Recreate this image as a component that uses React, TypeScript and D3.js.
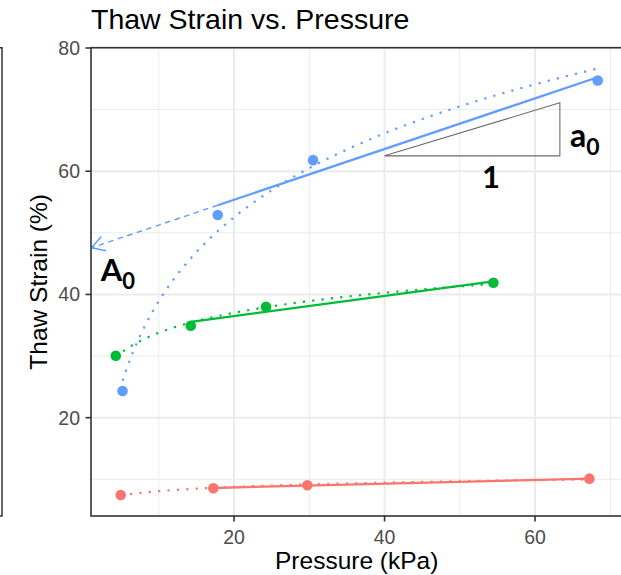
import React from 'react';
import * as d3 from 'd3';

// ---- data ----
const bluePressure = [5.18, 17.83, 30.5, 68.33];
const blueStrain = [24.33, 52.9, 61.8, 74.73];
const greenPressure = [4.28, 14.25, 24.25, 54.46];
const greenStrain = [30.06, 34.93, 38.0, 41.9];
const redPressure = [4.94, 17.25, 29.74, 67.22];
const redStrain = [7.45, 8.54, 9.03, 10.1];

const seriesNames = ['red', 'green', 'blue'];
const seriesColors = ['#F8766D', '#00BA38', '#619CFF'];

const xDomain = [0.99, 71.61];
const yDomain = [4.04, 80.05];
const xMajorTicks = [20, 40, 60];
const xMinorTicks = [10, 30, 50, 70];
const yMajorTicks = [20, 40, 60, 80];
const yMinorTicks = [10, 30, 50, 70];

// slope triangle (data coords) and arrow end
const triangleX = [40, 63.3, 63.3];
const triangleY = [62.5, 62.5, 71.1];
const arrowEndX = 1.05;
const labelA0 = { x: 2.29, y: 42.25 };
const labelOne = { x: 54.15, y: 57.3 };
const labelSmallA = { x: 64.65, y: 63.95 };

const W = 621;
const H = 575;

function linFit(xs: number[], ys: number[]) {
  const mx = d3.mean(xs) as number;
  const my = d3.mean(ys) as number;
  let sxy = 0, sxx = 0;
  xs.forEach((x, i) => { sxy += (x - mx) * (ys[i] - my); sxx += (x - mx) * (x - mx); });
  const slope = sxy / sxx;
  return { slope, intercept: my - slope * mx };
}

export default function App() {
  const x = d3.scaleLinear().domain(xDomain).range([91, 622.4]);
  const y = d3.scaleLinear().domain(yDomain).range([516, 47.7]);
  const [pl, pr] = x.range();
  const [pb, pt] = y.range();

  const series = [
    { xs: redPressure, ys: redStrain },
    { xs: greenPressure, ys: greenStrain },
    { xs: bluePressure, ys: blueStrain },
  ].map((s, i) => {
    const lf = linFit(s.xs.slice(1), s.ys.slice(1));
    const gf = linFit(s.xs.map(Math.log), s.ys);
    const x0 = d3.min(s.xs) as number, x1 = d3.max(s.xs) as number;
    const curve = d3.range(0, 101).map(k => {
      const xv = x0 + (x1 - x0) * k / 100;
      return [xv, gf.intercept + gf.slope * Math.log(xv)] as [number, number];
    });
    const lx0 = s.xs[1], lx1 = s.xs[s.xs.length - 1];
    const linePts: [number, number][] = [[lx0, lf.intercept + lf.slope * lx0], [lx1, lf.intercept + lf.slope * lx1]];
    return { ...s, name: seriesNames[i], color: seriesColors[i], lf, curve, linePts };
  });

  const line = d3.line<[number, number]>().x(d => x(d[0])).y(d => y(d[1]));

  const blue = series[2];
  const ax0 = blue.xs[1];
  const aStart: [number, number] = [x(ax0), y(blue.lf.intercept + blue.lf.slope * ax0)];
  const aEnd: [number, number] = [x(arrowEndX), y(blue.lf.intercept + blue.lf.slope * arrowEndX)];
  const ang = Math.atan2(aStart[1] - aEnd[1], aStart[0] - aEnd[0]);
  const headLen = 15;
  const head = [ang + Math.PI / 6, ang - Math.PI / 6].map(a => [aEnd[0] + headLen * Math.cos(a), aEnd[1] + headLen * Math.sin(a)]);

  const tri = triangleX.map((tx, i) => [x(tx), y(triangleY[i])] as [number, number]);

  const font = '"Liberation Sans", Arial, sans-serif';
  const boldFont = 'Lato, "DejaVu Sans", sans-serif';

  return (
    <svg width={W} height={H} style={{ position: 'absolute', left: 0, top: 0, background: '#fff' }}>
      <defs>
        <clipPath id="panel"><rect x={pl} y={pt} width={pr - pl} height={pb - pt} /></clipPath>
      </defs>
      <rect x={0} y={0} width={W} height={H} fill="#fff" />
      {/* partial neighbouring box */}
      <path d={`M-5,${pt} H2 V${pb} H-5`} fill="none" stroke="#333" strokeWidth={1.5} />

      {/* grid */}
      <g clipPath="url(#panel)">
        {xMinorTicks.map(t => <line key={'xm' + t} x1={x(t)} x2={x(t)} y1={pt} y2={pb} stroke="#EBEBEB" strokeWidth={1} />)}
        {yMinorTicks.map(t => <line key={'ym' + t} y1={y(t)} y2={y(t)} x1={pl} x2={pr} stroke="#EBEBEB" strokeWidth={1} />)}
        {xMajorTicks.map(t => <line key={'xM' + t} x1={x(t)} x2={x(t)} y1={pt} y2={pb} stroke="#EBEBEB" strokeWidth={2} />)}
        {yMajorTicks.map(t => <line key={'yM' + t} y1={y(t)} y2={y(t)} x1={pl} x2={pr} stroke="#EBEBEB" strokeWidth={2} />)}

        {series.map(s => (
          <g key={s.name}>
            <path d={line(s.curve) || ''} fill="none" stroke={s.color} strokeWidth={2.2} strokeDasharray="2.2 7.2" />
            <path d={line(s.linePts) || ''} fill="none" stroke={s.color} strokeWidth={2.3} />
            {s.xs.map((xv, i) => <circle key={i} cx={x(xv)} cy={y(s.ys[i])} r={5.3} fill={s.color} />)}
          </g>
        ))}

        {/* dashed extrapolation arrow */}
        <line x1={aStart[0]} y1={aStart[1]} x2={aEnd[0]} y2={aEnd[1]} stroke="#619CFF" strokeWidth={1.4} strokeDasharray="5.5 4.5" />
        <path d={`M${head[0][0]},${head[0][1]} L${aEnd[0]},${aEnd[1]} L${head[1][0]},${head[1][1]}`} fill="none" stroke="#619CFF" strokeWidth={1.4} />

        {/* slope triangle */}
        <path d={`M${tri[0][0]},${tri[0][1]} L${tri[1][0]},${tri[1][1]} L${tri[2][0]},${tri[2][1]} Z`} fill="none" stroke="#6b6b6b" strokeWidth={1.1} />
      </g>

      {/* annotation labels */}
      <text x={x(labelA0.x)} y={y(labelA0.y)} fontFamily={boldFont} fontWeight="bold" fontSize={31} fill="#000">
        A<tspan fontSize={22} dy={8}>0</tspan>
      </text>
      <text x={x(labelOne.x)} y={y(labelOne.y)} fontFamily={boldFont} fontWeight="bold" fontSize={31} fill="#000" textAnchor="middle">1</text>
      <text x={x(labelSmallA.x)} y={y(labelSmallA.y)} fontFamily={boldFont} fontWeight="bold" fontSize={32} fill="#000">
        a<tspan fontSize={23} dy={8}>0</tspan>
      </text>

      {/* panel border */}
      <rect x={pl} y={pt} width={pr - pl} height={pb - pt} fill="none" stroke="#333" strokeWidth={1.6} />

      {/* axes ticks */}
      {yMajorTicks.map(t => (
        <g key={'yt' + t}>
          <line x1={pl - 5.5} x2={pl} y1={y(t)} y2={y(t)} stroke="#333" strokeWidth={1.6} />
          <text x={pl - 11} y={y(t) + 7} textAnchor="end" fontFamily={font} fontSize={19.5} fill="#4D4D4D">{t}</text>
        </g>
      ))}
      {xMajorTicks.map(t => (
        <g key={'xt' + t}>
          <line x1={x(t)} x2={x(t)} y1={pb} y2={pb + 5.5} stroke="#333" strokeWidth={1.6} />
          <text x={x(t)} y={pb + 28} textAnchor="middle" fontFamily={font} fontSize={19.5} fill="#4D4D4D">{t}</text>
        </g>
      ))}

      {/* titles */}
      <text x={pl} y={29} fontFamily={font} fontSize={28.5} fill="#000">Thaw Strain vs. Pressure</text>
      <text x={(pl + pr) / 2} y={569} textAnchor="middle" fontFamily={font} fontSize={24.5} fill="#000">Pressure (kPa)</text>
      <text transform={`translate(47,${(pt + pb) / 2}) rotate(-90)`} textAnchor="middle" fontFamily={font} fontSize={24.5} fill="#000">Thaw Strain (%)</text>
    </svg>
  );
}
